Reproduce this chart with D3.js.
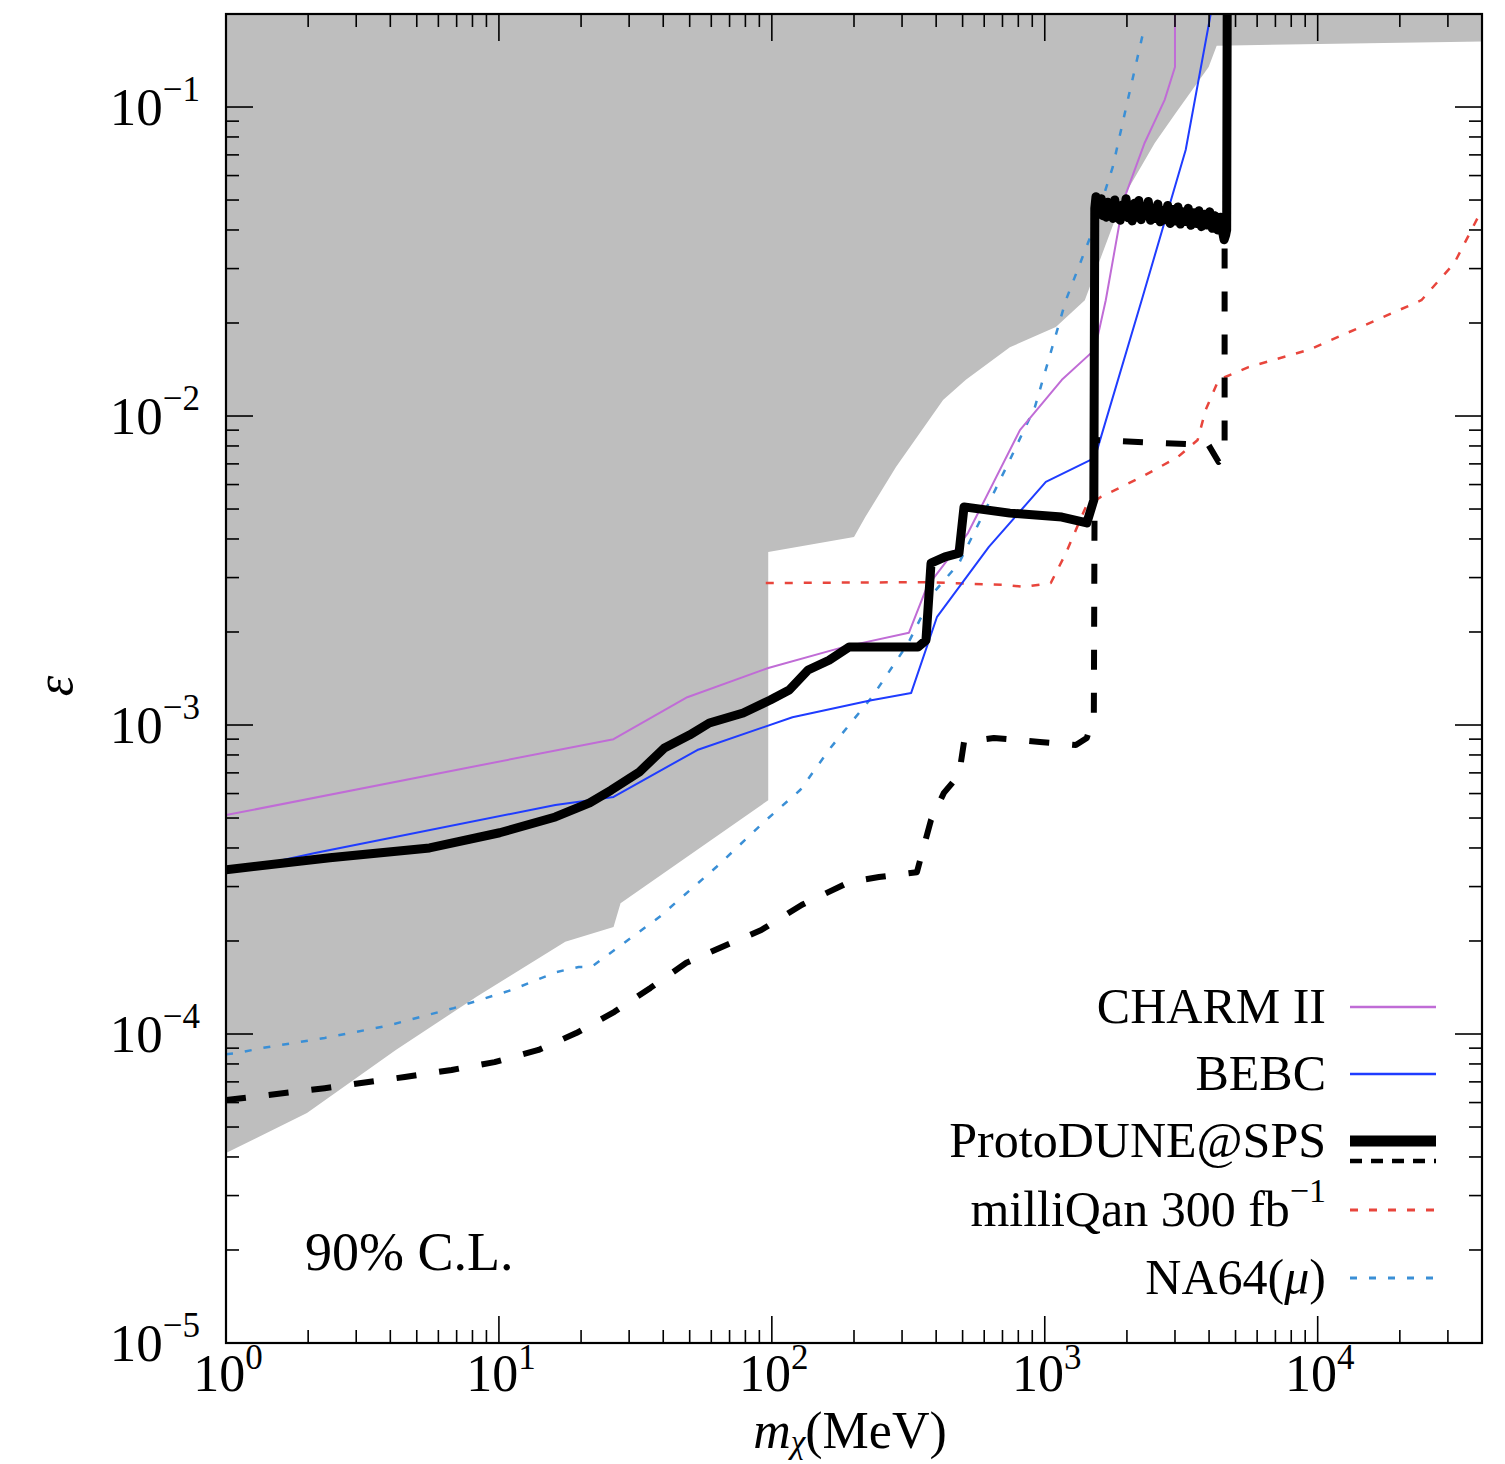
<!DOCTYPE html>
<html>
<head>
<meta charset="utf-8">
<script src="https://cdn.jsdelivr.net/npm/d3@7"></script>
<style>
  body { margin: 0; background: #fff; }
  svg { display: block; }
  text { font-family: "Liberation Serif", "DejaVu Serif", serif; fill: #000; }
</style>
</head>
<body>
<svg id="chart"></svg>
<script>
// Limits on millicharged particles, eps vs m_chi (MeV)

// excluded region (grey), [m, eps]
var excluded = [
	[1, 0.2], [4e4, 0.2], [4e4, 0.163], [4265, 0.158], [3985, 0.1347], [3020, 0.0957],
	[2530, 0.0765], [1945, 0.0512], [1402, 0.0237], [1098, 0.0194], [745, 0.0167],
	[514, 0.0131], [424, 0.01127], [285, 0.00684], [220, 0.00471], [200, 0.00406],
	[97, 0.00363], [97, 5.71e-4], [27.9, 2.65e-4], [26.3, 2.22e-4], [17.5, 1.99e-4],
	[8.28, 1.32e-4], [4.19, 8.88e-5], [1.98, 5.55e-5], [1, 4.12e-5]
];

var charm2 = [
	[1, 5.11e-4], [26.3, 9.0e-4], [49, 1.23e-3], [97, 1.53e-3], [184, 1.79e-3],
	[318, 1.99e-3], [370, 2.8e-3], [523, 4.18e-3], [811, 9.0e-3], [1155, 0.0131],
	[1525, 0.0164], [1673, 0.0237], [1945, 0.05], [2322, 0.0765], [2750, 0.1055],
	[3000, 0.1347], [3000, 0.2]
];

var bebc = [
	[1, 3.34e-4], [2.12, 3.85e-4], [16.1, 5.51e-4], [26.3, 5.85e-4], [53.3, 8.3e-4],
	[119, 1.06e-3], [229, 1.2e-3], [324, 1.27e-3], [403, 2.24e-3], [624, 3.77e-3],
	[1009, 6.12e-3], [1525, 7.32e-3], [2265, 0.0237], [3283, 0.0726], [4055, 0.2]
];

var protoSolid = [
	[1, 3.40e-4], [2.40, 3.72e-4], [5.57, 4.0e-4], [10.06, 4.48e-4], [16.1, 5.04e-4],
	[21.5, 5.6e-4], [25.8, 6.16e-4], [32.7, 7.05e-4], [40.4, 8.43e-4], [49.9, 9.28e-4],
	[59, 1.015e-3], [78.5, 1.094e-3], [98.7, 1.205e-3], [115.8, 1.298e-3], [135.8, 1.507e-3],
	[162, 1.62e-3], [192, 1.787e-3], [247, 1.787e-3], [343, 1.787e-3], [367, 1.88e-3],
	[383, 3.34e-3], [431, 3.5e-3], [485, 3.6e-3], [506, 5.08e-3], [745, 4.85e-3],
	[1155, 4.71e-3], [1426, 4.51e-3], [1513, 5.35e-3],
	[1525, 0.0470], [1540, 0.0512], [1555, 0.0452], [1575, 0.0498], [1590, 0.0460],
	[1610, 0.0505], [1630, 0.0445], [1655, 0.0478], [1680, 0.0440], [1700, 0.0492],
	[1725, 0.0450], [1750, 0.0470], [1780, 0.0436], [1805, 0.0500], [1835, 0.0442],
	[1860, 0.0475], [1890, 0.0430], [1920, 0.0482], [1950, 0.0446], [1985, 0.0505],
	[2020, 0.0438], [2055, 0.0470], [2090, 0.0428], [2130, 0.0488], [2170, 0.0440],
	[2210, 0.0498], [2255, 0.0432], [2300, 0.0472], [2345, 0.0445], [2395, 0.0495],
	[2440, 0.0430], [2490, 0.0468], [2540, 0.0436], [2595, 0.0485], [2650, 0.0425],
	[2705, 0.0462], [2760, 0.0432], [2820, 0.0480], [2880, 0.0420], [2945, 0.0466],
	[3010, 0.0428], [3075, 0.0475], [3140, 0.0418], [3210, 0.0458], [3280, 0.0426],
	[3355, 0.0470], [3430, 0.0414], [3510, 0.0455], [3590, 0.0420], [3670, 0.0462],
	[3750, 0.0410], [3840, 0.0450], [3930, 0.0415], [4020, 0.0458], [4110, 0.0405],
	[4200, 0.0445], [4300, 0.0400], [4400, 0.0440], [4480, 0.0395], [4540, 0.0372],
	[4600, 0.0385], [4640, 0.040], [4660, 0.2]
];

var protoDashed = [
	[1, 6.11e-5], [2.30, 6.68e-5], [4.52, 7.26e-5], [6.71, 7.65e-5], [9.64, 8.11e-5],
	[13.97, 8.88e-5], [19.2, 1.007e-4], [26.5, 1.18e-4], [35.9, 1.41e-4], [48.6, 1.7e-4],
	[65.3, 1.91e-4], [91.5, 2.17e-4], [129, 2.62e-4], [192, 3.10e-4], [247, 3.22e-4],
	[340, 3.34e-4], [383, 4.93e-4], [427, 6.03e-4], [485, 6.89e-4], [506, 8.81e-4],
	[651, 9.08e-4], [960, 8.81e-4], [1300, 8.61e-4], [1426, 9.08e-4], [1513, 1.077e-3],
	[1525, 8.36e-3], [3985, 8.05e-3], [4335, 7.10e-3], [4560, 7.48e-3], [4560, 0.0371]
];

var milliqan = [
	[95, 2.88e-3], [358, 2.90e-3], [715, 2.84e-3], [845, 2.80e-3], [1052, 2.88e-3],
	[1195, 3.60e-3], [1414, 5.08e-3], [1604, 5.47e-3], [2265, 6.35e-3], [3069, 7.36e-3],
	[3632, 8.36e-3], [3884, 0.01045], [4335, 0.0131], [5580, 0.0144], [9330, 0.0164],
	[14350, 0.0194], [23990, 0.0237], [31700, 0.0313], [39400, 0.0454]
];

var na64 = [
	[1, 8.6e-5], [1.106, 8.68e-5], [1.354, 9.01e-5], [2.30, 9.71e-5], [3.88, 1.062e-4],
	[6.83, 1.213e-4], [11.1, 1.387e-4], [16.3, 1.588e-4], [19.6, 1.648e-4], [21.8, 1.648e-4],
	[26.5, 1.87e-4], [38.7, 2.39e-4], [62.6, 3.47e-4], [95.4, 4.93e-4], [127, 6.16e-4],
	[165, 8.49e-4], [233, 1.233e-3], [316, 1.84e-3], [390, 2.67e-3], [485, 3.34e-3],
	[598, 4.85e-3], [745, 7.21e-3], [920, 0.01069], [1195, 0.0237], [1487, 0.0391],
	[1775, 0.0640], [2015, 0.1054], [2305, 0.1775]
];

var xTickExps = [0, 1, 2, 3, 4];
var yTickExps = [-5, -4, -3, -2, -1];
var legendLabels = ["CHARM II", "BEBC", "ProtoDUNE@SPS", "milliQan 300 fb", "NA64("];

// drawing
var width = 1505;
var height = 1464;
var pLeft = 226, pRight = 1482, pTop = 14, pBottom = 1343;

var svg = d3.select("#chart")
	.attr("width", width)
	.attr("height", height);

var x = d3.scaleLog().domain([1, 4e4]).range([pLeft, pRight]);
var y = d3.scaleLog().domain([1e-5, 0.2]).range([pBottom, pTop]);

svg.append("defs").append("clipPath")
	.attr("id", "plotClip")
	.append("rect")
	.attr("x", pLeft).attr("y", pTop)
	.attr("width", pRight - pLeft).attr("height", pBottom - pTop);

var plot = svg.append("g").attr("clip-path", "url(#plotClip)");

var line = d3.line()
	.x(d => x(d[0]))
	.y(d => y(d[1]));

plot.append("path")
	.datum(excluded)
	.attr("d", d3.line().x(d => x(d[0])).y(d => y(d[1])).curve(d3.curveLinearClosed))
	.style("fill", "#bebebe")
	.style("stroke", "none");

var styles = {
	charm: { color: "#c06cd6", width: 2, dash: null },
	bebc: { color: "#1f3cff", width: 2, dash: null },
	solid: { color: "#000", width: 9, dash: null },
	dashed: { color: "#000", width: 6, dash: "20,23" },
	milli: { color: "#e8453c", width: 2.5, dash: "8,11" },
	na64: { color: "#3a8fd6", width: 2.5, dash: "7,12" }
};

function drawCurve(data, st){
	plot.append("path")
		.datum(data)
		.attr("d", line)
		.style("fill", "none")
		.style("stroke", st.color)
		.style("stroke-width", st.width)
		.style("stroke-dasharray", st.dash)
		.style("stroke-linejoin", "round");
}

drawCurve(na64, styles.na64);
drawCurve(milliqan, styles.milli);
drawCurve(charm2, styles.charm);
drawCurve(bebc, styles.bebc);
drawCurve(protoDashed, styles.dashed);
drawCurve(protoSolid, styles.solid);

// ticks (inward, all four sides)
var xMinor = x.ticks().filter(d => Math.abs(Math.log10(d) - Math.round(Math.log10(d))) > 1e-6);
var yMinor = y.ticks().filter(d => Math.abs(Math.log10(d) - Math.round(Math.log10(d))) > 1e-6);
var xMajor = xTickExps.map(e => Math.pow(10, e));
var yMajor = yTickExps.map(e => Math.pow(10, e));

var ticks = svg.append("g")
	.style("stroke", "#000")
	.style("stroke-width", 1.6);

function xTicks(vals, len){
	vals.forEach(function(v){
		ticks.append("line").attr("x1", x(v)).attr("x2", x(v)).attr("y1", pBottom).attr("y2", pBottom - len);
		ticks.append("line").attr("x1", x(v)).attr("x2", x(v)).attr("y1", pTop).attr("y2", pTop + len);
	});
}
function yTicks(vals, len){
	vals.forEach(function(v){
		ticks.append("line").attr("y1", y(v)).attr("y2", y(v)).attr("x1", pLeft).attr("x2", pLeft + len);
		ticks.append("line").attr("y1", y(v)).attr("y2", y(v)).attr("x1", pRight).attr("x2", pRight - len);
	});
}
xTicks(xMinor, 13);
xTicks(xMajor, 27);
yTicks(yMinor, 13);
yTicks(yMajor, 27);

svg.append("rect")
	.attr("x", pLeft).attr("y", pTop)
	.attr("width", pRight - pLeft).attr("height", pBottom - pTop)
	.style("fill", "none")
	.style("stroke", "#000")
	.style("stroke-width", 2.2);

// tick labels
xTickExps.forEach(function(e){
	var t = svg.append("text")
		.attr("x", x(Math.pow(10, e)) + 2)
		.attr("y", 1391)
		.attr("text-anchor", "middle")
		.style("font-size", "52px");
	t.append("tspan").text("10");
	t.append("tspan").attr("dy", -22).style("font-size", "35px").text(String(e));
});

yTickExps.forEach(function(e){
	var t = svg.append("text")
		.attr("x", 200)
		.attr("y", y(Math.pow(10, e)) + 18)
		.attr("text-anchor", "end")
		.style("font-size", "53px");
	t.append("tspan").text("10");
	t.append("tspan").attr("dy", -24).style("font-size", "35px").text("\u2212" + Math.abs(e));
});

// axis titles
var xt = svg.append("text")
	.attr("x", 850)
	.attr("y", 1448)
	.attr("text-anchor", "middle")
	.style("font-size", "52px");
xt.append("tspan").style("font-style", "italic").text("m");
xt.append("tspan").attr("dy", 5).style("font-size", "33px").style("font-style", "italic").text("\u03c7");
xt.append("tspan").attr("dy", -5).text("(MeV)");

svg.append("text")
	.attr("transform", "translate(72,686) rotate(-90)")
	.attr("text-anchor", "middle")
	.style("font-size", "52px")
	.style("font-style", "italic")
	.text("\u03b5");

svg.append("text")
	.attr("x", 305)
	.attr("y", 1270)
	.style("font-size", "54px")
	.text("90% C.L.");

// legend
var legendRows = [
	{ label: legendLabels[0], y: 1007, lines: [styles.charm] },
	{ label: legendLabels[1], y: 1074, lines: [styles.bebc] },
	{ label: legendLabels[2], y: 1141, lines: [styles.solid, styles.dashed], extra: 20 },
	{ label: legendLabels[3], y: 1210, lines: [styles.milli], sup: "\u22121" },
	{ label: legendLabels[4], y: 1278, lines: [styles.na64], mu: true }
];

var legend = svg.append("g").attr("class", "legend");

legendRows.forEach(function(r){
	var t = legend.append("text")
		.attr("x", 1326)
		.attr("y", r.y + 16)
		.attr("text-anchor", "end")
		.style("font-size", "50px");
	t.append("tspan").text(r.label);
	if (r.sup) {
		t.append("tspan").attr("dy", -24).style("font-size", "34px").text(r.sup);
	}
	if (r.mu) {
		t.append("tspan").style("font-style", "italic").text("\u03bc");
		t.append("tspan").text(")");
	}
	r.lines.forEach(function(st, i){
		var ly = r.y + (i === 1 ? r.extra : 0);
		legend.append("line")
			.attr("x1", 1350).attr("x2", 1436)
			.attr("y1", ly).attr("y2", ly)
			.style("stroke", st.color)
			.style("stroke-width", i === 1 ? 4.5 : (st.width > 5 ? 11 : st.width + 0.5))
			.style("stroke-dasharray", i === 1 ? "12,9" : st.dash);
	});
});
</script>
</body>
</html>
